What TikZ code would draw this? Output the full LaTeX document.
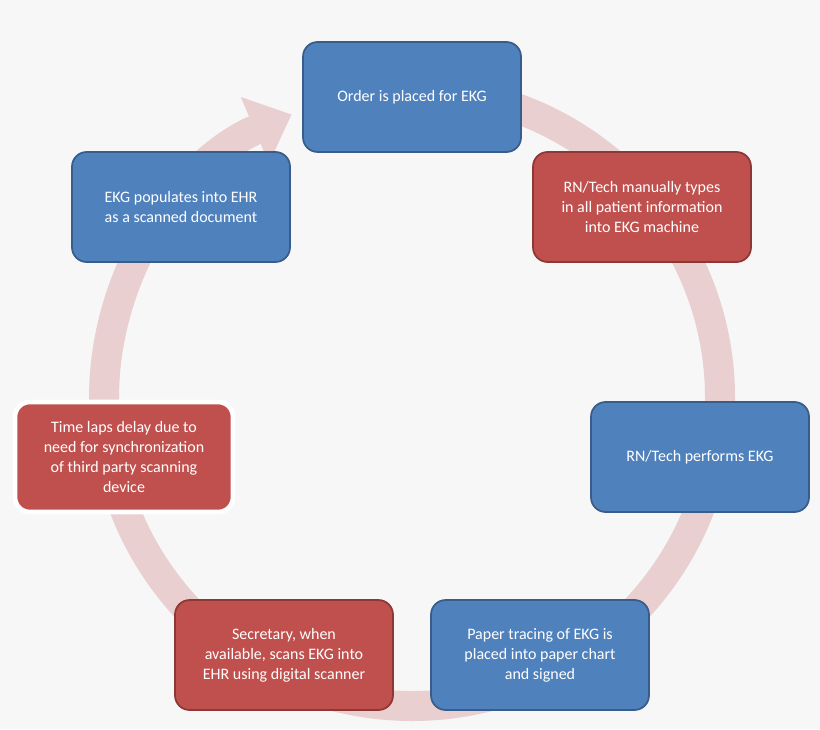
\documentclass[tikz,border=0pt]{standalone}
\usepackage{fontspec}
\setmainfont{Carlito}
\usetikzlibrary{arrows.meta}
\definecolor{bg}{RGB}{247,247,247}
\definecolor{ringc}{RGB}{233,207,207}
\definecolor{bfill}{RGB}{79,129,189}
\definecolor{bline}{RGB}{56,93,138}
\definecolor{rfill}{RGB}{192,80,77}
\definecolor{rline}{RGB}{140,56,53}
\begin{document}
\begin{tikzpicture}[x=0.75pt,y=0.75pt,
  box/.style={rounded corners=11pt,minimum width=163.5pt,minimum height=82.5pt,align=center,text=white,font=\fontsize{12}{15}\selectfont,line width=1.3pt,inner sep=2pt},
  bluebox/.style={box,fill=bfill,draw=bline},
  redbox/.style={box,fill=rfill,draw=rline}]
\fill[bg] (0,0) rectangle (820,729);
\coordinate (c) at (412,331);
\draw[ringc,line width=22.5pt,-{Triangle[width=52pt,length=30pt]}] ([shift={(88:308)}]c) arc[start angle=88,end angle=-247,radius=308];
\node[bluebox] (n1) at (412,632) {Order is placed for EKG};
\node[redbox] (n2) at (642,522) {RN/Tech manually types\\in all patient information\\into EKG machine};
\node[bluebox] (n3) at (700,272) {RN/Tech performs EKG};
\node[bluebox] (n4) at (540,74) {Paper tracing of EKG is\\placed into paper chart\\and signed};
\node[redbox] (n5) at (284,74) {Secretary, when\\available, scans EKG into\\EHR using digital scanner};
\fill[black!25,rounded corners=13pt] (124-84,272-45) rectangle (124+86,272+40);
\node[redbox,draw=white,line width=3.5pt] (n6) at (124,272) {Time laps delay due to\\need for synchronization\\of third party scanning\\device};
\node[bluebox] (n7) at (181,522) {EKG populates into EHR\\as a scanned document};
\end{tikzpicture}
\end{document}
